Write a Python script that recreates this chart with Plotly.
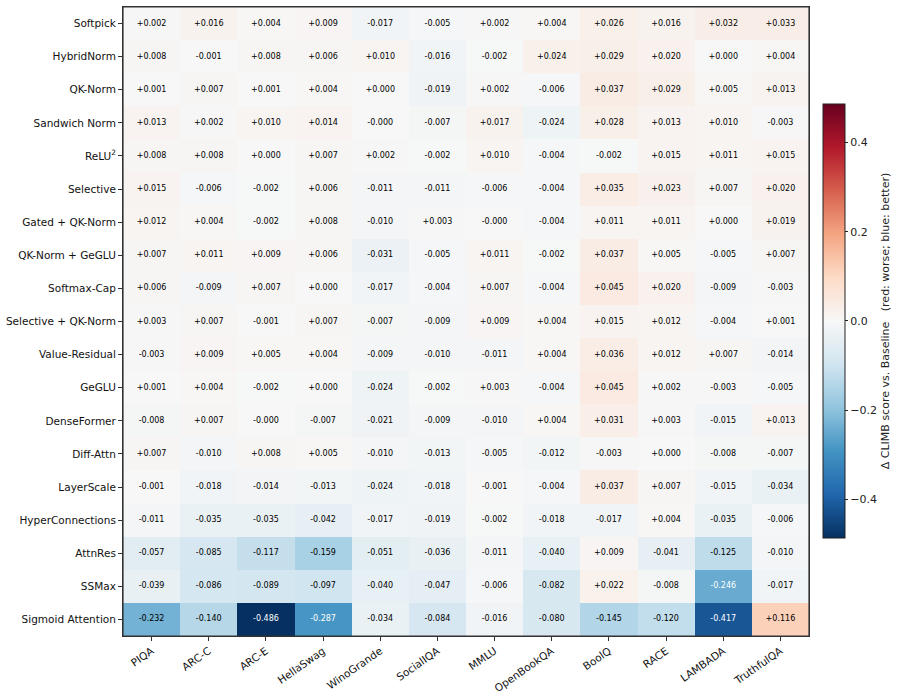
import plotly.graph_objects as go

methods = ["Softpick", "HybridNorm", "QK-Norm", "Sandwich Norm", "ReLU<sup>2</sup>", "Selective",
           "Gated + QK-Norm", "QK-Norm + GeGLU", "Softmax-Cap", "Selective + QK-Norm",
           "Value-Residual", "GeGLU", "DenseFormer", "Diff-Attn", "LayerScale",
           "HyperConnections", "AttnRes", "SSMax", "Sigmoid Attention"]
benchmarks = ["PIQA", "ARC-C", "ARC-E", "HellaSwag", "WinoGrande", "SocialIQA", "MMLU",
              "OpenBookQA", "BoolQ", "RACE", "LAMBADA", "TruthfulQA"]

softpick = [0.002, 0.016, 0.004, 0.009, -0.017, -0.005, 0.002, 0.004, 0.026, 0.016, 0.032, 0.033]
hybridnorm = [0.008, -0.001, 0.008, 0.006, 0.010, -0.016, -0.002, 0.024, 0.029, 0.020, 0.0, 0.004]
qknorm = [0.001, 0.007, 0.001, 0.004, 0.0, -0.019, 0.002, -0.006, 0.037, 0.029, 0.005, 0.013]
sandwich = [0.013, 0.002, 0.010, 0.014, -0.0004, -0.007, 0.017, -0.024, 0.028, 0.013, 0.010, -0.003]
relu2 = [0.008, 0.008, 0.0, 0.007, 0.002, -0.002, 0.010, -0.004, -0.002, 0.015, 0.011, 0.015]
selective = [0.015, -0.006, -0.002, 0.006, -0.011, -0.011, -0.006, -0.004, 0.035, 0.023, 0.007, 0.020]
gated_qk = [0.012, 0.004, -0.002, 0.008, -0.010, 0.003, -0.0004, -0.004, 0.011, 0.011, 0.0, 0.019]
qk_geglu = [0.007, 0.011, 0.009, 0.006, -0.031, -0.005, 0.011, -0.002, 0.037, 0.005, -0.005, 0.007]
softmax_cap = [0.006, -0.009, 0.007, 0.0, -0.017, -0.004, 0.007, -0.004, 0.045, 0.020, -0.009, -0.003]
selective_qk = [0.003, 0.007, -0.001, 0.007, -0.007, -0.009, 0.009, 0.004, 0.015, 0.012, -0.004, 0.001]
value_residual = [-0.003, 0.009, 0.005, 0.004, -0.009, -0.010, -0.011, 0.004, 0.036, 0.012, 0.007, -0.014]
geglu = [0.001, 0.004, -0.002, 0.0, -0.024, -0.002, 0.003, -0.004, 0.045, 0.002, -0.003, -0.005]
denseformer = [-0.008, 0.007, -0.0004, -0.007, -0.021, -0.009, -0.010, 0.004, 0.031, 0.003, -0.015, 0.013]
diff_attn = [0.007, -0.010, 0.008, 0.005, -0.010, -0.013, -0.005, -0.012, -0.003, 0.0, -0.008, -0.007]
layerscale = [-0.001, -0.018, -0.014, -0.013, -0.024, -0.018, -0.001, -0.004, 0.037, 0.007, -0.015, -0.034]
hyperconn = [-0.011, -0.035, -0.035, -0.042, -0.017, -0.019, -0.002, -0.018, -0.017, 0.004, -0.035, -0.006]
attnres = [-0.057, -0.085, -0.117, -0.159, -0.051, -0.036, -0.011, -0.040, 0.009, -0.041, -0.125, -0.010]
ssmax = [-0.039, -0.086, -0.089, -0.097, -0.040, -0.047, -0.006, -0.082, 0.022, -0.008, -0.246, -0.017]
sigmoid_attn = [-0.232, -0.140, -0.486, -0.287, -0.034, -0.084, -0.016, -0.080, -0.145, -0.120, -0.417, 0.116]

rows = [softpick, hybridnorm, qknorm, sandwich, relu2, selective, gated_qk, qk_geglu,
        softmax_cap, selective_qk, value_residual, geglu, denseformer, diff_attn,
        layerscale, hyperconn, attnres, ssmax, sigmoid_attn]

vmax = max(abs(v) for r in rows for v in r)

rdbu_r = ["#053061", "#2166ac", "#4393c3", "#92c5de", "#d1e5f0", "#f7f7f7",
          "#fddbc7", "#f4a582", "#d6604d", "#b2182b", "#67001f"]
colorscale = [[i / 10, c] for i, c in enumerate(rdbu_r)]

fig = go.Figure()
fig.add_trace(go.Heatmap(
    z=rows, x=benchmarks, y=methods, colorscale=colorscale, zmin=-vmax, zmax=vmax,
    xgap=0, ygap=0, hoverinfo="skip",
    colorbar=dict(
        x=1.0204, xanchor="left", xref="paper", y=0.5008, yanchor="middle",
        len=0.69, thickness=22, xpad=0, ypad=0,
        outlinewidth=1, outlinecolor="#222",
        tickvals=[-0.4, -0.2, 0.0, 0.2, 0.4],
        ticktext=["\u22120.4", "\u22120.2", "0.0", "0.2", "0.4"],
        ticks="outside", ticklen=3, tickcolor="#222",
        tickfont=dict(family="DejaVu Sans", size=11, color="#222"),
        title=dict(text="\u0394 CLIMB score vs. Baseline   (red: worse; blue: better)",
                   side="right", font=dict(family="DejaVu Sans", size=11, color="#222")),
    ),
))

xs, ys, txt, cols = [], [], [], []
for m, r in zip(methods, rows):
    for b, v in zip(benchmarks, r):
        xs.append(b)
        ys.append(m)
        txt.append(f"{v:+.3f}")
        cols.append("white" if abs(v) > 0.5 * vmax else "black")

fig.add_trace(go.Scatter(
    x=xs, y=ys, mode="text", text=txt,
    textfont=dict(family="DejaVu Sans", size=8, color=cols),
    hoverinfo="skip", showlegend=False,
))

fig.update_xaxes(
    type="category", categoryorder="array", categoryarray=benchmarks,
    range=[-0.5, len(benchmarks) - 0.5],
    tickangle=-35, ticks="outside", ticklen=4, tickcolor="#333",
    showline=True, mirror=True, linecolor="#333", linewidth=1,
    tickfont=dict(family="DejaVu Sans", size=10.5, color="#111"), showgrid=False, zeroline=False,
    automargin=False,
)
fig.update_yaxes(
    type="category", categoryorder="array", categoryarray=methods,
    range=[len(methods) - 0.5, -0.5],
    ticks="outside", ticklen=4, tickcolor="#333",
    showline=True, mirror=True, linecolor="#333", linewidth=1,
    tickfont=dict(family="DejaVu Sans", size=10.5, color="#111"), showgrid=False, zeroline=False,
    automargin=False,
)
fig.add_shape(type="rect", xref="paper", yref="paper", x0=0, x1=1, y0=0, y1=1,
              line=dict(color="#333", width=1.2), fillcolor="rgba(0,0,0,0)", layer="above")
fig.update_layout(
    width=904, height=696,
    margin=dict(l=123, r=95, t=7, b=60, autoexpand=False),
    paper_bgcolor="white", plot_bgcolor="white",
    showlegend=False,
)
fig.write_html("out.html")
